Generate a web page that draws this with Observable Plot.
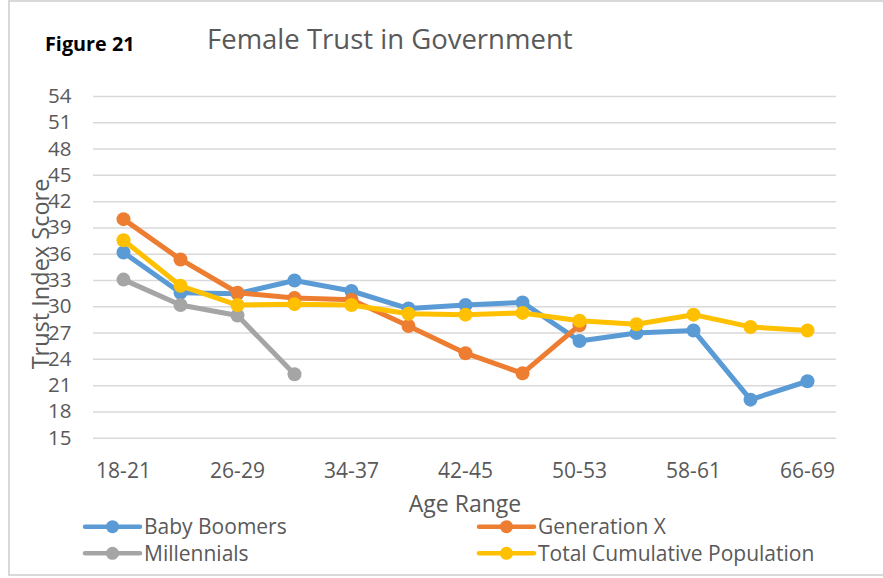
<!DOCTYPE html>
<html>
<head>
<meta charset="utf-8">
<script src="https://cdn.jsdelivr.net/npm/d3@7"></script>
<script src="https://cdn.jsdelivr.net/npm/@observablehq/plot@0.6"></script>
<style>
  html, body { margin: 0; padding: 0; background: #fff; }
  #wrap { position: relative; width: 883px; height: 578px; overflow: hidden; font-family: "Open Sans", sans-serif; color: #595959; }
  #border { position: absolute; left: 8px; top: 0; width: 900px; height: 576px; box-sizing: border-box; border: 2px solid #d9d9d9; }
  #chart { position: absolute; left: 0; top: 0; }
  #overlay { position: absolute; left: 0; top: 0; }
</style>
</head>
<body>
<div id="wrap">
  <div id="border"></div>
  <div id="chart"></div>
  <svg id="overlay" width="883" height="578"></svg>
</div>
<script>
const ages = ["18-21","22-25","26-29","30-33","34-37","38-41","42-45","46-49","50-53","54-57","58-61","62-65","66-69"];
const xTickLabels = ["18-21","26-29","34-37","42-45","50-53","58-61","66-69"];
const yTicks = [15,18,21,24,27,30,33,36,39,42,45,48,51,54];
const seriesNames = ["Baby Boomers","Generation X","Millennials","Total Cumulative Population"];
const seriesColors = ["#5B9BD5","#ED7D31","#A5A5A5","#FFC000"];
const babyBoomers = [36.2, 31.6, 31.5, 33.0, 31.8, 29.8, 30.2, 30.5, 26.1, 27.0, 27.3, 19.4, 21.5];
const generationX = [40.0, 35.4, 31.6, 31.0, 30.8, 27.8, 24.7, 22.4, 27.9];
const millennials = [33.1, 30.2, 29.0, 22.3];
const totalPop   = [37.6, 32.4, 30.2, 30.3, 30.2, 29.2, 29.1, 29.3, 28.4, 28.0, 29.1, 27.7, 27.3];
const titleText = "Female Trust in Government";
const figureText = "Figure 21";
const xLabel = "Age Range";
const yLabel = "Trust Index Score";

const seriesValues = [babyBoomers, generationX, millennials, totalPop];
const rows = [];
seriesValues.forEach((vals, si) => {
  vals.forEach((v, i) => rows.push({series: seriesNames[si], age: ages[i], value: v}));
});

const marks = [
  Plot.ruleY(yTicks, {stroke: "#d9d9d9", strokeWidth: 1.5}),
  Plot.axisX({ticks: xTickLabels, tickSize: 0, tickPadding: 24.5, fontSize: 21, fill: "#595959", label: null}),
  Plot.axisY({ticks: yTicks, tickSize: 0, tickPadding: 22, fontSize: 20.5, fill: "#595959", label: null})
];
seriesNames.forEach(name => {
  const d = rows.filter(r => r.series === name);
  marks.push(Plot.line(d, {x: "age", y: "value", stroke: "series", strokeWidth: 5, strokeLinejoin: "round", strokeLinecap: "round"}));
  marks.push(Plot.dot(d, {x: "age", y: "value", fill: "series", r: 7, stroke: "none"}));
});

const chart = Plot.plot({
  width: 883,
  height: 490,
  marginTop: 96,
  marginBottom: 52.3,
  marginLeft: 93,
  marginRight: 47,
  style: {fontFamily: "Open Sans", fontSize: "20px", color: "#595959", background: "transparent"},
  x: {type: "point", domain: ages, padding: 0.5},
  y: {domain: [15, 54]},
  color: {domain: seriesNames, range: seriesColors},
  marks
});
document.getElementById("chart").appendChild(chart);

// Titles, axis labels and legend
const ov = d3.select("#overlay");
ov.append("text").attr("x", 45).attr("y", 51).attr("font-family", "Open Sans").attr("font-weight", 700)
  .attr("font-size", 19.8).attr("fill", "#000").text(figureText);
ov.append("text").attr("x", 207).attr("y", 48.5).attr("font-family", "Open Sans")
  .attr("font-size", 27.5).attr("fill", "#595959").text(titleText);
ov.append("text").attr("x", 465).attr("y", 512).attr("text-anchor", "middle").attr("font-family", "Open Sans")
  .attr("font-size", 23).attr("fill", "#595959").text(xLabel);
ov.append("text").attr("transform", "translate(48.5,274) rotate(-90)").attr("text-anchor", "middle")
  .attr("font-family", "Open Sans").attr("font-size", 23.5).attr("fill", "#595959").text(yLabel);

const legendPos = [
  {x0: 85, y: 526.7}, {x0: 479, y: 526.7}, {x0: 85, y: 553.3}, {x0: 479, y: 553.3}
];
seriesNames.forEach((name, i) => {
  const p = legendPos[i];
  const g = ov.append("g");
  g.append("line").attr("x1", p.x0).attr("x2", p.x0 + 55).attr("y1", p.y).attr("y2", p.y)
    .attr("stroke", seriesColors[i]).attr("stroke-width", 4.5).attr("stroke-linecap", "round");
  g.append("circle").attr("cx", p.x0 + 27.5).attr("cy", p.y).attr("r", 6.5).attr("fill", seriesColors[i]);
  g.append("text").attr("x", p.x0 + 59).attr("y", p.y).attr("dy", "0.35em").attr("font-family", "Open Sans")
    .attr("font-size", 21).attr("fill", "#595959").text(name);
});
</script>
</body>
</html>
